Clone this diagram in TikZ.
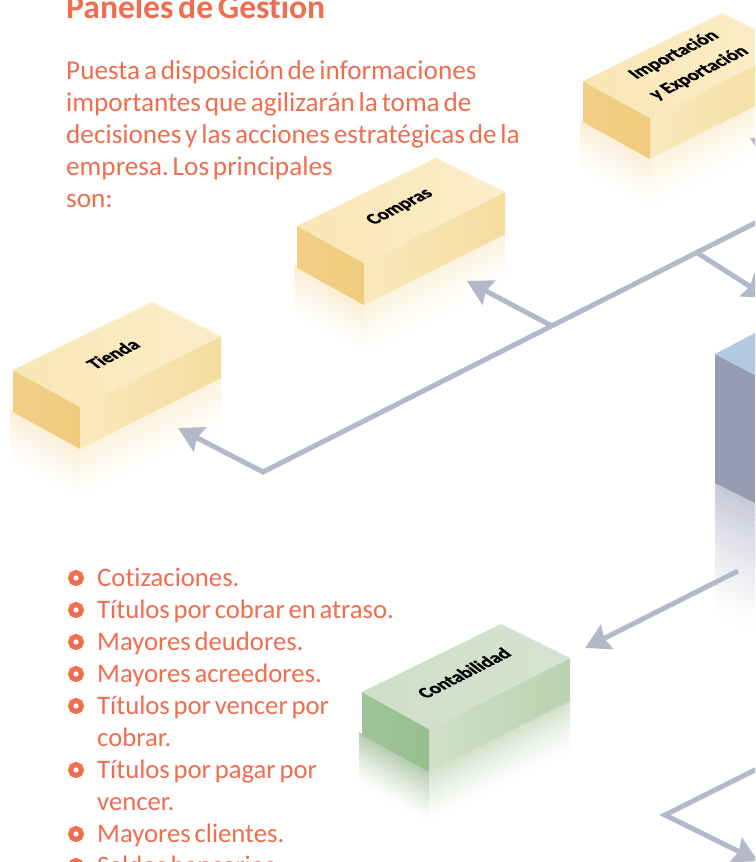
\documentclass[tikz,border=0pt]{standalone}
\usepackage{fontspec}
\setmainfont[RawFeature={-liga;-dlig;-clig},WordSpace=0.62]{Carlito}
\newfontfamily\lblfont[FakeBold=1.1,FakeStretch=0.86,RawFeature={-liga}]{Carlito Bold}
\frenchspacing
\usetikzlibrary{arrows.meta}
\definecolor{txtc}{HTML}{EE6E4F}
\definecolor{arrc}{HTML}{B4B9CA}
\definecolor{ytop}{HTML}{FBEECA}
\definecolor{ytopb}{HTML}{F9E6B5}
\definecolor{yleft}{HTML}{F0CB7D}
\definecolor{yright}{HTML}{F5DC9E}
\definecolor{yrightb}{HTML}{F9E9BD}
\definecolor{yrefl}{HTML}{FBEFD6}
\definecolor{yrefr}{HTML}{FCF3DC}
\definecolor{gtop}{HTML}{D6E3CF}
\definecolor{gtopb}{HTML}{CFDFC7}
\definecolor{gleft}{HTML}{97BE8F}
\definecolor{gright}{HTML}{B9D2AF}
\definecolor{grightb}{HTML}{D0E0C8}
\definecolor{grefl}{HTML}{B5CDAC}
\definecolor{grefr}{HTML}{D4E2CD}
\definecolor{bltop}{HTML}{B3C8E2}
\definecolor{blleft}{HTML}{969DB3}
\definecolor{blrefl}{HTML}{C8CAD8}
\tikzset{
  conn/.style={draw=arrc,line width=5pt,line join=miter},
  arr/.style={conn,-{Stealth[length=24.5pt,width=27pt,inset=3pt,fill=arrc,color=arrc]}},
  body/.style={anchor=base west,inner sep=0pt,text=txtc,font=\fontsize{27.2}{32}\selectfont},
  item/.style={anchor=base west,inner sep=0pt,text=txtc,font=\fontsize{26.7}{32}\selectfont},
  lbl/.style={inner sep=0pt,text=black,transform shape,cm={0.89,0.45,-0.7,0.55,(0,0)},font=\lblfont\fontsize{21.5}{22}\selectfont},
  ring/.style={circle,inner sep=0pt,minimum size=11pt,draw=txtc,line width=5pt}
}
% \reflstrip{x1}{y1}{x2}{y2}{height}{colour}: band under the edge, fading to white
\newcommand{\reflstrip}[6]{%
  \foreach \i in {0,...,23}{%
    \pgfmathsetmacro{\ta}{#5*\i/24}%
    \pgfmathsetmacro{\tb}{#5*(\i+1.4)/24}%
    \pgfmathsetmacro{\mixv}{100*(1-\i/24)^1.3}%
    \fill[#6!\mixv!white] (#1,#2+\ta) -- (#3,#4+\ta) -- (#3,#4+\tb) -- (#1,#2+\tb) -- cycle;
  }%
}
\newcommand{\brick}[4]{%
  % #1 left x, #2 left y, #3 height, #4 palette letter
  \path (#1,#2) coordinate (L) ++(67,37) coordinate (F) ++(141,-71) coordinate (R) ++(-69,-34) coordinate (T);
  \reflstrip{#1-3}{#2+#3-3}{#1+67}{#2+37+#3-1}{52}{#4refl}
  \reflstrip{#1+67}{#2+37+#3-1}{#1+208}{#2-34+#3-1}{52}{#4refr}
  \shade[left color=#4left!92!white,right color=#4left,draw=none] (L) -- (F) -- ++(0,#3) -- (#1,#2+#3) -- cycle;
  \shade[left color=#4rightb,right color=#4right,draw=none] (F) -- (R) -- ++(0,#3) -- (#1+67,#2+37+#3) -- cycle;
  \shade[left color=#4topb,right color=#4top,draw=none] (L) -- (F) -- (R) -- (T) -- cycle;
}
\begin{document}
\begin{tikzpicture}[x=1pt,y=-1pt]
\useasboundingbox (0,0) rectangle (755,862);
\clip (0,0) rectangle (755,862);
\fill[white] (0,0) rectangle (755,862);

% bricks
\brick{13}{370}{42}{y}
\brick{297}{226}{42}{y}
\brick{583}{81}{41}{y}
\brick{362}{692}{43}{g}

% big blue block
\reflstrip{715}{483}{755}{503}{128}{blrefl}
\fill[blleft] (715,354) -- (755,375) -- (755,503) -- (715,483) -- cycle;
\fill[bltop] (715,354) -- (755,333) -- (755,375) -- cycle;

% labels
\node[shift={(113,354)},lbl] (tienda) at (0,0) {Tienda};
\node[shift={(400,207)},lbl] (compras) at (0,0) {Compras};
\node[shift={(674,55)},lbl] (impoA) at (0,0) {Importación};
\node[shift={(699,73)},lbl] (impoB) at (0,0) {y Exportación};
\node[shift={(464,673)},lbl] (conta) at (0,0) {Contabilidad};

% connectors
\coordinate (tiendaTip) at (178,428);
\coordinate (elbowA) at (263,472);
\coordinate (mainEnd) at (765,218);
\coordinate (comprasTip) at (467,281);
\coordinate (joinA) at (552,326);
\coordinate (joinB) at (696,252);
\coordinate (blockTip) at (768,298);
\coordinate (impoTip) at (750,138);
\coordinate (impoTail) at (790,160);
\coordinate (blockOut) at (738,571);
\coordinate (contaTip) at (585,648);
\coordinate (lowStart) at (765,765);
\coordinate (elbowB) at (665,815);
\coordinate (lowTip) at (758,861);
\draw[arr] (mainEnd) -- (elbowA) -- (tiendaTip);
\draw[arr] (joinA) -- (comprasTip);
\draw[arr] (joinB) -- (blockTip);
\draw[arr] (impoTail) -- (impoTip);
\draw[arr] (blockOut) -- (contaTip);
\draw[arr] (lowStart) -- (elbowB) -- (lowTip);

% title and paragraph
\node[body,font=\bfseries\fontsize{33.6}{32}\selectfont] (title) at (66,19) {Paneles de Gestión};
\node[body] (p1) at (66,79) {Puesta a disposición de informaciones};
\node[body] (p2) at (66,111) {importantes que agilizarán la toma de};
\node[body] (p3) at (66,143) {decisiones y las acciones estratégicas de la};
\node[body] (p4) at (66,175) {empresa. Los principales};
\node[body] (p5) at (66,207) {son:};

% list
\node[ring] (b1) at (76,578) {};
\node[ring] (b2) at (76,610) {};
\node[ring] (b3) at (76,642) {};
\node[ring] (b4) at (76,674) {};
\node[ring] (b5) at (76,706) {};
\node[ring] (b6) at (76,770) {};
\node[ring] (b7) at (76,834) {};
\node[ring] (b8) at (76,866) {};
\node[item] (l1) at (97,586) {Cotizaciones.};
\node[item] (l2) at (97,618) {Títulos por cobrar en atraso.};
\node[item] (l3) at (97,650) {Mayores deudores.};
\node[item] (l4) at (97,682) {Mayores acreedores.};
\node[item] (l5) at (97,714) {Títulos por vencer por};
\node[item] (l5b) at (97,746) {cobrar.};
\node[item] (l6) at (97,778) {Títulos por pagar por};
\node[item] (l6b) at (97,810) {vencer.};
\node[item] (l7) at (97,842) {Mayores clientes.};
\node[item] (l8) at (97,874) {Saldos bancarios.};
\end{tikzpicture}
\end{document}
